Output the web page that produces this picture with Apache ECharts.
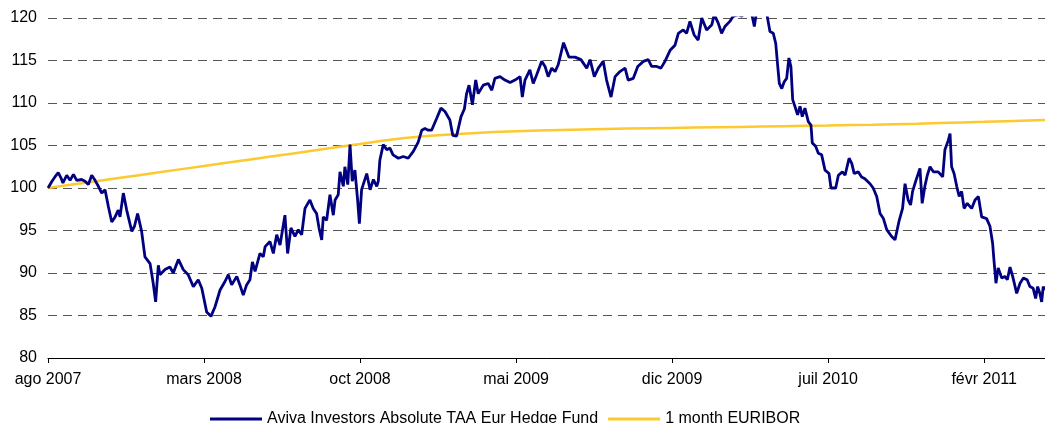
<!DOCTYPE html>
<html>
<head>
<meta charset="utf-8">
<script src="https://cdn.jsdelivr.net/npm/echarts@6/dist/echarts.min.js"></script>
<style>
html,body{margin:0;padding:0;background:#fff}
#chart{width:1045px;height:423px}
</style>
</head>
<body>
<div id="chart"></div>
<script>
// x is months since 1 Aug 2007
var tickLabels = ['ago 2007', 'mars 2008', 'oct 2008', 'mai 2009', 'dic 2009', 'juil 2010', 'févr 2011'];

var fundMonths = [
  0.00, 0.18, 0.31, 0.46, 0.58, 0.67, 0.84, 0.99, 1.14, 1.29,
  1.51, 1.66, 1.81, 1.96, 2.11, 2.26, 2.41, 2.56, 2.71, 2.86,
  3.01, 3.15, 3.23, 3.38, 3.53, 3.76, 3.88, 4.02, 4.20, 4.35,
  4.58, 4.72, 4.83, 4.95, 5.02, 5.25, 5.47, 5.62, 5.85, 6.07,
  6.29, 6.52, 6.74, 6.90, 7.12, 7.31, 7.49, 7.72, 7.94, 8.09,
  8.24, 8.47, 8.61, 8.76, 8.91, 9.06, 9.17, 9.29, 9.51, 9.66,
  9.74, 9.96, 10.11, 10.26, 10.41, 10.63, 10.75, 10.90, 11.08, 11.23,
  11.38, 11.53, 11.75, 11.90, 12.05, 12.16, 12.28, 12.35, 12.50, 12.65,
  12.80, 12.88, 13.02, 13.10, 13.25, 13.32, 13.45, 13.55, 13.65, 13.77,
  13.89, 13.97, 14.07, 14.30, 14.45, 14.60, 14.75, 14.82, 14.89, 15.04,
  15.20, 15.34, 15.48, 15.72, 15.94, 16.16, 16.39, 16.61, 16.77, 16.91,
  17.06, 17.21, 17.44, 17.63, 17.81, 18.03, 18.16, 18.33, 18.53, 18.68,
  18.78, 18.89, 19.04, 19.19, 19.30, 19.53, 19.75, 19.91, 20.05, 20.28,
  20.50, 20.73, 20.95, 21.18, 21.28, 21.40, 21.62, 21.77, 21.92, 22.15,
  22.30, 22.44, 22.60, 22.75, 22.89, 22.97, 23.13, 23.37, 23.64, 23.91,
  24.17, 24.32, 24.51, 24.69, 24.91, 25.06, 25.26, 25.44, 25.66, 25.89,
  26.03, 26.26, 26.46, 26.71, 26.93, 27.08, 27.31, 27.50, 27.68, 27.91,
  28.13, 28.28, 28.50, 28.65, 28.80, 28.99, 29.17, 29.33, 29.55, 29.78,
  29.89, 30.07, 30.22, 30.37, 30.59, 30.74, 30.97, 31.13, 31.31, 31.49,
  31.69, 31.81, 31.99, 32.24, 32.39, 32.54, 32.65, 32.74, 32.81, 32.92,
  33.03, 33.14, 33.24, 33.33, 33.41, 33.51, 33.63, 33.74, 33.84, 33.96,
  34.11, 34.23, 34.29, 34.44, 34.56, 34.71, 34.86, 35.04, 35.13, 35.34,
  35.46, 35.64, 35.76, 35.94, 36.06, 36.17, 36.35, 36.50, 36.65, 36.88,
  37.02, 37.18, 37.33, 37.48, 37.63, 37.85, 38.00, 38.19, 38.34, 38.45,
  38.59, 38.70, 38.79, 38.94, 39.12, 39.22, 39.34, 39.45, 39.57, 39.72,
  39.94, 40.14, 40.24, 40.39, 40.47, 40.54, 40.65, 40.77, 40.88, 40.99,
  41.10, 41.24, 41.44, 41.59, 41.74, 41.89, 42.11, 42.26, 42.38, 42.44,
  42.53, 42.63, 42.79, 42.93, 43.04, 43.16, 43.28, 43.46, 43.61, 43.76,
  43.93, 44.05, 44.20, 44.31, 44.40, 44.50, 44.58, 44.65, 44.73
];
var fundValues = [
  100.0, 100.8, 101.3, 101.8, 101.2, 100.6, 101.5, 100.9, 101.6, 100.9,
  101.0, 100.8, 100.4, 101.5, 100.9, 100.2, 99.4, 99.8, 97.8, 96.0,
  96.6, 97.4, 96.6, 99.4, 97.4, 94.9, 95.5, 97.0, 94.9, 91.9,
  91.1, 88.8, 86.6, 90.9, 89.8, 90.4, 90.7, 90.0, 91.6, 90.4,
  89.8, 88.4, 89.2, 88.2, 85.4, 84.9, 86.0, 88.0, 89.0, 89.8,
  88.6, 89.6, 88.6, 87.4, 88.6, 89.2, 91.3, 90.2, 92.3, 91.9,
  93.1, 93.7, 92.3, 94.5, 93.3, 96.8, 92.3, 95.3, 94.3, 95.1,
  94.5, 97.6, 98.6, 97.6, 97.0, 95.3, 93.9, 96.6, 96.2, 99.2,
  96.8, 98.6, 99.2, 101.9, 100.2, 102.5, 100.4, 105.1, 100.8, 102.1,
  98.6, 95.8, 99.8, 101.7, 99.8, 101.0, 100.2, 100.8, 103.3, 105.1,
  104.5, 104.7, 103.9, 103.5, 103.7, 103.5, 104.3, 105.4, 106.8, 107.0,
  106.8, 106.8, 108.2, 109.4, 109.0, 108.0, 106.2, 106.1, 108.4, 109.3,
  111.1, 112.1, 109.8, 112.7, 111.1, 112.1, 112.3, 111.5, 112.9, 113.1,
  112.7, 112.4, 112.7, 113.1, 110.7, 112.7, 113.9, 112.3, 113.3, 114.9,
  114.3, 113.1, 114.1, 113.7, 114.5, 114.7, 117.1, 115.4, 115.4, 115.1,
  114.1, 115.1, 113.1, 114.1, 114.9, 112.7, 110.7, 113.1, 113.7, 114.1,
  112.7, 112.9, 114.3, 114.9, 115.1, 114.3, 114.3, 114.1, 114.9, 116.2,
  116.8, 118.2, 118.6, 118.2, 119.6, 118.0, 117.4, 120.0, 118.6, 119.2,
  120.4, 119.4, 118.2, 119.0, 119.6, 120.2, 120.4, 120.2, 121.0, 121.5,
  119.0, 121.2, 121.8, 120.6, 118.4, 118.2, 117.0, 114.3, 112.3, 111.7,
  112.5, 112.9, 115.3, 114.3, 110.4, 109.6, 108.6, 109.6, 108.4, 109.4,
  107.8, 107.4, 105.3, 104.9, 104.1, 103.9, 102.1, 101.7, 100.0, 100.0,
  101.5, 101.9, 101.5, 103.5, 102.9, 101.7, 101.9, 101.3, 101.1, 100.5,
  100.0, 99.0, 97.0, 96.4, 95.1, 94.3, 93.9, 96.2, 97.6, 100.5,
  98.6, 98.0, 99.6, 100.9, 102.3, 98.2, 100.2, 101.5, 102.5, 101.9,
  101.9, 101.3, 104.5, 105.6, 106.4, 102.5, 101.7, 100.2, 99.0, 99.6,
  97.6, 98.2, 97.6, 98.6, 99.0, 96.6, 96.4, 95.5, 93.5, 91.5,
  88.8, 90.6, 89.4, 89.6, 89.2, 90.7, 89.6, 87.6, 88.8, 89.4,
  89.2, 88.4, 88.2, 87.0, 88.4, 87.6, 86.6, 88.4, 88.0
];

var euriborMonths = [
  0, 1, 2, 3, 4, 5, 6, 7, 8, 9, 10, 11, 12, 13, 14, 15, 16, 17, 18, 19, 20, 21, 22,
  23, 24, 25, 26, 27, 28, 29, 30, 31, 32, 33, 34, 35, 36, 37, 38, 39, 40, 41, 42, 43, 44, 44.73
];
var euriborValues = [
  100.00, 100.37, 100.74, 101.11, 101.48, 101.85, 102.22, 102.59, 102.96, 103.33,
  103.70, 104.07, 104.45, 104.82, 105.18, 105.55, 105.88, 106.12, 106.30, 106.45,
  106.58, 106.68, 106.76, 106.83, 106.89, 106.94, 106.99, 107.03, 107.07, 107.11,
  107.15, 107.19, 107.23, 107.27, 107.31, 107.35, 107.40, 107.45, 107.51, 107.57,
  107.64, 107.71, 107.78, 107.86, 107.94, 108.00
];

var seriesNames = ['Aviva Investors Absolute TAA Eur Hedge Fund', '1 month EURIBOR'];

function pairs(xs, ys) {
  var out = [];
  for (var i = 0; i < xs.length; i++) out.push([xs[i], ys[i]]);
  return out;
}

var myChart = echarts.init(document.getElementById('chart'));
var font = "'Liberation Sans', Arial, sans-serif";
var option = {
  animation: false,
  backgroundColor: '#fff',
  textStyle: { fontFamily: font },
  grid: { left: 48, right: 0, top: 18, bottom: 65 },
  legend: {
    data: seriesNames,
    left: 210,
    top: 411,
    padding: 0,
    itemGap: 10,
    itemWidth: 52,
    itemHeight: 3,
    icon: 'rect',
    textStyle: { fontSize: 16, color: '#000', fontFamily: font }
  },
  xAxis: {
    type: 'value',
    min: 0,
    max: 44.73,
    interval: 7,
    splitLine: { show: false },
    axisLine: { show: true, lineStyle: { color: '#000', width: 1 } },
    axisTick: { show: true, length: 5, lineStyle: { color: '#000' } },
    axisLabel: {
      color: '#000',
      fontSize: 16,
      fontFamily: font,
      margin: 14,
      showMaxLabel: false,
      formatter: function (v) {
        var k = Math.round(v / 7);
        return Math.abs(v - k * 7) < 0.01 ? (tickLabels[k] || '') : '';
      }
    }
  },
  yAxis: {
    type: 'value',
    min: 80,
    max: 120,
    interval: 5,
    axisLine: { show: false },
    axisTick: { show: false },
    axisLabel: { color: '#000', fontSize: 16, fontFamily: font, margin: 11 },
    splitLine: { lineStyle: { color: '#555', type: [9, 6], width: 1 } }
  },
  series: [
    {
      name: seriesNames[1],
      type: 'line',
      showSymbol: false,
      z: 2,
      color: '#FCC92E',
      lineStyle: { width: 2.5, color: '#FCC92E' },
      data: pairs(euriborMonths, euriborValues)
    },
    {
      name: seriesNames[0],
      type: 'line',
      showSymbol: false,
      z: 3,
      color: '#000080',
      lineStyle: { width: 2.8, color: '#000080' },
      data: pairs(fundMonths, fundValues)
    }
  ]
};
myChart.setOption(option);
window.addEventListener('resize', function () { myChart.resize(); });
</script>
</body>
</html>
